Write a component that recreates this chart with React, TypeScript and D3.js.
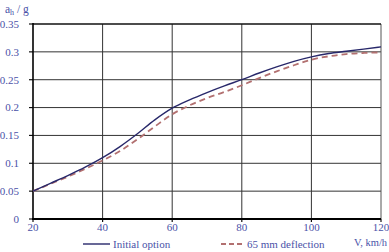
import React from "react";
import * as d3 from "d3";

const speeds = [20, 25, 30, 35, 40, 45, 50, 55, 60, 65, 70, 75, 80, 85, 90, 95, 100, 105, 110, 115, 120];
const initialOption = [0.05, 0.064, 0.078, 0.093, 0.11, 0.13, 0.153, 0.178, 0.199, 0.214, 0.227, 0.239, 0.25, 0.262, 0.273, 0.283, 0.291, 0.297, 0.301, 0.305, 0.309];
const deflection65 = [0.05, 0.063, 0.076, 0.09, 0.105, 0.122, 0.143, 0.166, 0.188, 0.204, 0.217, 0.228, 0.24, 0.253, 0.265, 0.276, 0.286, 0.292, 0.296, 0.298, 0.299];
const xTicks = [20, 40, 60, 80, 100, 120];
const yTicks = [0, 0.05, 0.1, 0.15, 0.2, 0.25, 0.3, 0.35];
const seriesNames = ["Initial option", "65 mm deflection"];

const W = 389;
const H = 252;
const left = 33;
const right = 381;
const top = 24;
const bottom = 219;
const textColor = "#4a52a8";
const font = "'Liberation Serif', 'Times New Roman', serif";

export default function App() {
  const x = d3.scaleLinear().domain([20, 120]).range([left, right]);
  const y = d3.scaleLinear().domain([0, 0.35]).range([bottom, top]);
  const line = d3
    .line<number>()
    .x((_, i) => x(speeds[i]))
    .y((d) => y(d))
    .curve(d3.curveMonotoneX);

  return (
    <svg width={W} height={H} style={{ position: "absolute", left: 0, top: 0 }}>
      <rect width={W} height={H} fill="#fff" />
      {yTicks.slice(1, -1).map((t) => (
        <line key={"gy" + t} x1={left} x2={right} y1={y(t)} y2={y(t)} stroke="#333" strokeWidth={1} />
      ))}
      {xTicks.slice(1, -1).map((t) => (
        <line key={"gx" + t} x1={x(t)} x2={x(t)} y1={top} y2={bottom} stroke="#333" strokeWidth={1} />
      ))}
      <line x1={right} x2={right} y1={top} y2={bottom} stroke="#555" strokeWidth={1} />
      <line x1={left} x2={right} y1={top} y2={top} stroke="#111" strokeWidth={1.6} />
      {yTicks.map((t) => (
        <line key={"ty" + t} x1={left - 4} x2={left} y1={y(t)} y2={y(t)} stroke="#111" strokeWidth={1.2} />
      ))}
      {xTicks.map((t) => (
        <line key={"tx" + t} x1={x(t)} x2={x(t)} y1={bottom} y2={bottom + 3} stroke="#111" strokeWidth={1.2} />
      ))}
      <line x1={left} x2={left} y1={top - 1} y2={bottom + 1} stroke="#000" strokeWidth={1.6} />
      <line x1={left - 1} x2={right} y1={bottom} y2={bottom} stroke="#000" strokeWidth={1.8} />
      <path d={line(deflection65) || ""} fill="none" stroke="#b27070" strokeWidth={1.8} strokeDasharray="6,4" />
      <path d={line(initialOption) || ""} fill="none" stroke="#28286a" strokeWidth={1.4} />
      <g fontFamily={font} fontSize={11} fill={textColor}>
        {yTicks.map((t) => (
          <text key={"ly" + t} x={19} y={y(t)} dy="0.35em" textAnchor="end">
            {String(t)}
          </text>
        ))}
        {xTicks.map((t) => (
          <text key={"lx" + t} x={x(t)} y={231} textAnchor="middle">
            {t}
          </text>
        ))}
        <text x={5} y={13} fontSize={11.5}>
          a<tspan fontSize={8} dy={2}>h</tspan>
          <tspan dy={-2}> / g</tspan>
        </text>
        <text x={354} y={246} fontSize={10.5}>V, km/h</text>
        <line x1={83} x2={110} y1={244} y2={244} stroke="#28286a" strokeWidth={1.4} />
        <text x={113} y={248}>{seriesNames[0]}</text>
        <line x1={221} x2={244} y1={244} y2={244} stroke="#b27070" strokeWidth={1.8} strokeDasharray="5,3" />
        <text x={247} y={248}>{seriesNames[1]}</text>
      </g>
    </svg>
  );
}
